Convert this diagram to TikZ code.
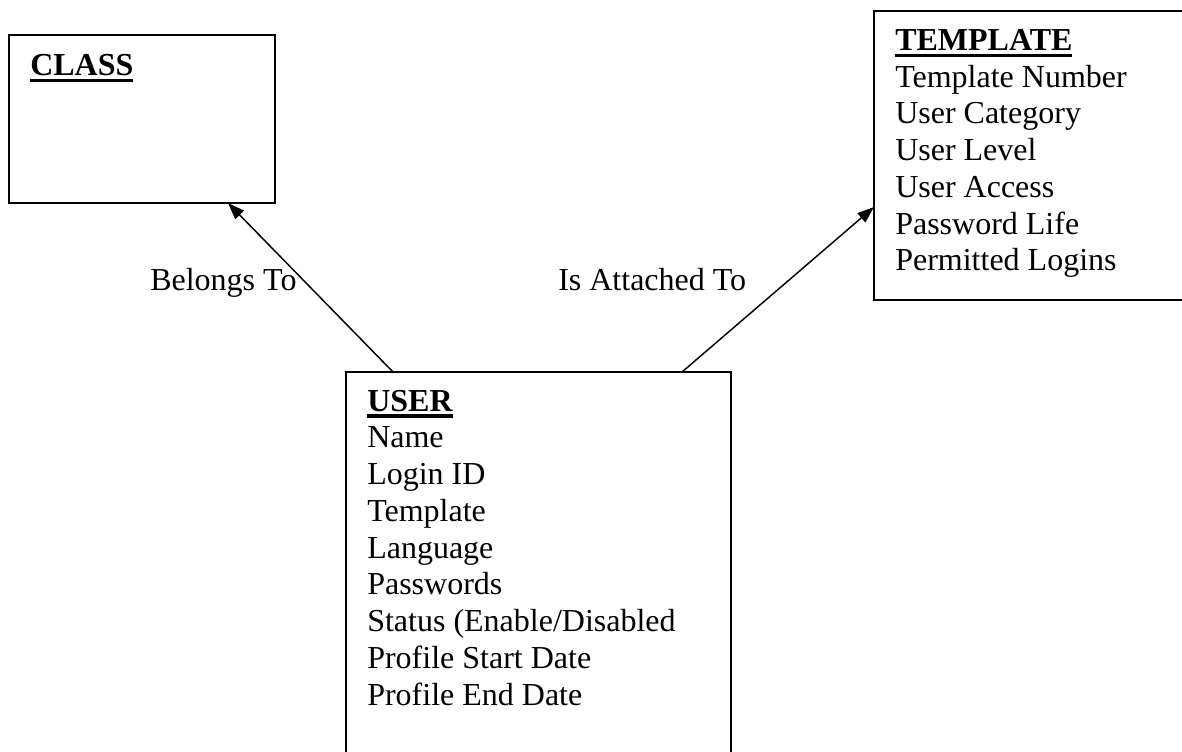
\documentclass[tikz,border=0pt]{standalone}
\usepackage{fontspec}
\setmainfont{Liberation Serif}
\usetikzlibrary{arrows.meta,calc}
\newcommand\titleul[1]{\setbox0\hbox{\bfseries #1}\rlap{\vrule width\wd0 height -2.4pt depth 5pt}\box0}
\begin{document}
\begin{tikzpicture}[x=0.75pt,y=-0.75pt,
  entity/.style={draw, line width=1.4pt, inner sep=0pt, outer sep=0pt, anchor=north west},
  txt/.style={anchor=base west, inner sep=0pt, font=\fontsize{24}{27.5}\selectfont},
  rel/.style={-{Triangle[length=12.5pt,width=9pt]}, line width=1.1pt}]
\useasboundingbox (0,0) rectangle (1182,751);
\clip (0,0) rectangle (1182,751);
\fill[white] (0,0) rectangle (1182,751);
% boxes
\node[entity, minimum width=199.5pt, minimum height=126pt] (class) at (9,35) {};
\node[entity, minimum width=330pt, minimum height=216.75pt] (template) at (874,11) {};
\node[entity, minimum width=288.75pt, minimum height=321pt] (user) at (346,372) {};
% CLASS text
\node[txt] (classT) at (30,75.5) {\titleul{CLASS}};
% TEMPLATE text
\node[txt] (tplT) at (895,50.5) {\titleul{TEMPLATE}};
\foreach \t [count=\i] in {{Template Number},{User Category},{User Level},{User Access},{Password Life},{Permitted Logins}}
  \node[txt] (tpl\i) at (895,50.5+36.7*\i) {\t};
% USER text
\node[txt] (userT) at (367,411) {\titleul{USER}};
\foreach \t [count=\i] in {{Name},{Login ID},{Template},{Language},{Passwords},{Status (Enable/Disabled},{Profile Start Date},{Profile End Date}}
  \node[txt] (usr\i) at (367,411+36.75*\i) {\t};
% relationships
\draw[rel] ($(user.north west)+(47,0)$) -- ($(class.south west)+(219,0)$);
\draw[rel] ($(user.north west)+(336,0)$) -- ($(template.north west)+(0,196)$);
\node[txt] (lbl1) at (150,290) {Belongs To};
\node[txt] (lbl2) at (558,290) {Is Attached To};
\end{tikzpicture}
\end{document}
